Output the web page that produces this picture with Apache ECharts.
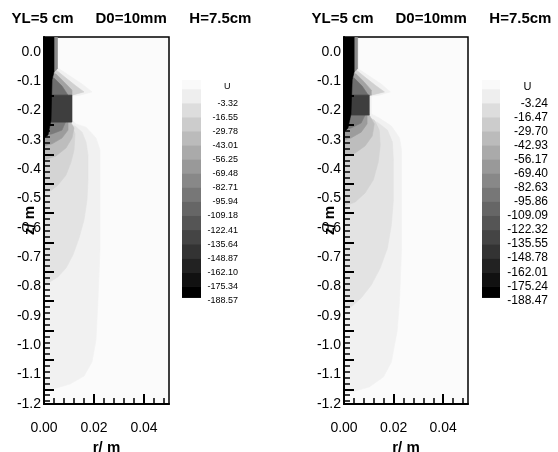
<!DOCTYPE html>
<html><head><meta charset="utf-8">
<script src="https://cdn.jsdelivr.net/npm/echarts@6/dist/echarts.min.js"></script>
<style>html,body{margin:0;padding:0;background:#fff}#c{width:558px;height:452px}</style>
</head><body><div id="c"></div>
<script>
// ---------- text / ticks ----------
const titleParts = ['YL=5 cm', 'D0=10mm', 'H=7.5cm'];
const xLabelValues = [0, 0.02, 0.04];
const yLabelValues = [-1.2, -1.1, -1.0, -0.9, -0.8, -0.7, -0.6, -0.5, -0.4, -0.3, -0.2, -0.1, 0.0];
const xName = 'r/ m', yName = 'z/ m', legendTitle = 'U';
const levelsLeft  = [-3.32, -16.55, -29.78, -43.01, -56.25, -69.48, -82.71, -95.94, -109.18, -122.41, -135.64, -148.87, -162.10, -175.34, -188.57];
const levelsRight = [-3.24, -16.47, -29.70, -42.93, -56.17, -69.40, -82.63, -95.86, -109.09, -122.32, -135.55, -148.78, -162.01, -175.24, -188.47];

// ---------- contour band outlines, [r (m), z (m)] ----------
// left panel
const L_bandA = [[0,-0.045],[0.0056,-0.056],[0.0104,-0.083],[0.0152,-0.110],[0.0192,-0.137],[0.0144,-0.148],[0.0112,-0.151],[0.0112,-0.233],[0.0128,-0.246],[0.0168,-0.257],[0.0208,-0.294],[0.0224,-0.335],[0.0224,-0.675],[0.0216,-0.846],[0.0208,-0.982],[0.0192,-1.057],[0.016,-1.105],[0.0104,-1.132],[0.0048,-1.146],[0,-1.149]];
const L_bandB = [[0,-0.240],[0.0064,-0.246],[0.0124,-0.253],[0.0152,-0.274],[0.0168,-0.308],[0.0176,-0.352],[0.0176,-0.437],[0.0172,-0.505],[0.016,-0.573],[0.014,-0.635],[0.0116,-0.692],[0.0088,-0.737],[0.0056,-0.767],[0.0024,-0.784],[0,-0.791]];
const L_bandC = [[0,-0.236],[0.0084,-0.240],[0.0112,-0.253],[0.0124,-0.280],[0.012,-0.335],[0.0108,-0.376],[0.0088,-0.420],[0.0056,-0.454],[0.0024,-0.475],[0,-0.481]];
const L_bandD = [[0,-0.233],[0.0104,-0.236],[0.012,-0.260],[0.0112,-0.294],[0.0088,-0.328],[0.0048,-0.355],[0,-0.369]];
const L_bandE = [[0,-0.233],[0.0096,-0.236],[0.0096,-0.267],[0.0072,-0.294],[0.0032,-0.314],[0,-0.321]];
const L_bandF = [[0,-0.233],[0.0088,-0.236],[0.0072,-0.267],[0.0032,-0.280],[0,-0.284]];
const L_hat1 = [[0,-0.056],[0.0048,-0.062],[0.0088,-0.090],[0.0128,-0.117],[0.016,-0.137],[0.0112,-0.148],[0,-0.148]];
const L_hat2 = [[0,-0.069],[0.0048,-0.076],[0.008,-0.103],[0.0112,-0.131],[0.0112,-0.148],[0,-0.148]];
const L_hat3 = [[0,-0.083],[0.004,-0.090],[0.0072,-0.117],[0.0096,-0.148],[0,-0.148]];
const L_block = [[0,-0.148],[0.0112,-0.148],[0.0112,-0.240],[0,-0.240]];
const L_edge = [[0.004,0.05],[0.0054,0.05],[0.0054,-0.058],[0.004,-0.069]];
const L_core = [[0,0.05],[0.004,0.05],[0.004,-0.069],[0.0032,-0.096],[0.0028,-0.233],[0.0016,-0.284],[0,-0.294]];
// right panel
const R_bandA = [[0,-0.045],[0.0053,-0.056],[0.0102,-0.083],[0.015,-0.110],[0.0187,-0.137],[0.0142,-0.148],[0.011,-0.151],[0.011,-0.212],[0.0142,-0.226],[0.0191,-0.253],[0.0224,-0.294],[0.0232,-0.335],[0.0232,-0.675],[0.0224,-0.846],[0.0215,-0.948],[0.0191,-1.057],[0.0159,-1.108],[0.0102,-1.142],[0.0045,-1.156],[0,-1.163]];
const R_bandB = [[0,-0.219],[0.0069,-0.226],[0.0134,-0.240],[0.0175,-0.267],[0.0195,-0.308],[0.0199,-0.369],[0.0199,-0.505],[0.0191,-0.590],[0.0175,-0.669],[0.0146,-0.737],[0.011,-0.795],[0.0069,-0.839],[0.0028,-0.870],[0,-0.883]];
const R_bandC = [[0,-0.216],[0.0085,-0.219],[0.0122,-0.233],[0.0142,-0.267],[0.0146,-0.318],[0.0138,-0.376],[0.0118,-0.437],[0.0085,-0.481],[0.0045,-0.512],[0,-0.526]];
const R_bandD = [[0,-0.212],[0.0102,-0.216],[0.0122,-0.246],[0.0114,-0.287],[0.0085,-0.321],[0.0045,-0.345],[0,-0.359]];
const R_bandE = [[0,-0.212],[0.0093,-0.216],[0.0093,-0.246],[0.0069,-0.274],[0.0028,-0.294],[0,-0.301]];
const R_bandF = [[0,-0.212],[0.0085,-0.216],[0.0069,-0.243],[0.0028,-0.260],[0,-0.267]];
const R_hat1 = [[0,-0.056],[0.0049,-0.062],[0.0089,-0.090],[0.013,-0.117],[0.0163,-0.137],[0.011,-0.148],[0,-0.148]];
const R_hat2 = [[0,-0.069],[0.0049,-0.076],[0.0081,-0.103],[0.011,-0.131],[0.011,-0.148],[0,-0.148]];
const R_hat3 = [[0,-0.083],[0.0041,-0.090],[0.0073,-0.117],[0.0098,-0.148],[0,-0.148]];
const R_block = [[0,-0.148],[0.0102,-0.148],[0.0102,-0.216],[0,-0.216]];
const R_edge = [[0.0041,0.05],[0.0055,0.05],[0.0055,-0.058],[0.0041,-0.069]];
const R_core = [[0,0.05],[0.0041,0.05],[0.0041,-0.069],[0.0033,-0.096],[0.0028,-0.212],[0.0016,-0.260],[0,-0.274]];

// ---------- styles ----------
const FONT = '"Liberation Sans", Arial, sans-serif';
const bandColors = {A:'#f1f1f1', B:'#e3e3e3', C:'#d4d4d4', D:'#bdbdbd', E:'#9c9c9c', F:'#7a7a7a', hat1:'#d0d0d0', hat2:'#a2a2a2', hat3:'#6e6e6e', block:'#3e3e3e', edge:'#8a8a8a', core:'#000000'};
const leftBands = [['A',L_bandA],['B',L_bandB],['C',L_bandC],['D',L_bandD],['E',L_bandE],['F',L_bandF],['hat1',L_hat1],['hat2',L_hat2],['hat3',L_hat3],['block',L_block],['edge',L_edge],['core',L_core]];
const rightBands = [['A',R_bandA],['B',R_bandB],['C',R_bandC],['D',R_bandD],['E',R_bandE],['F',R_bandF],['hat1',R_hat1],['hat2',R_hat2],['hat3',R_hat3],['block',R_block],['edge',R_edge],['core',R_core]];
const cbGrays = [250,238,221,204,187,170,153,136,119,102,85,68,51,34,17,0];

function bandSeries(bands, idx) {
  return {
    type: 'custom', xAxisIndex: idx, yAxisIndex: idx, clip: true, silent: true, animation: false,
    data: bands.map((b, i) => [i]),
    renderItem: (params, api) => {
      const b = bands[params.dataIndex];
      const c = bandColors[b[0]];
      return { type: 'polygon', shape: { points: b[1].map(p => api.coord(p)) }, style: { fill: c, stroke: c, lineWidth: 0.6 } };
    }
  };
}
function cbEdges(levels) {
  const step = levels[0] - levels[1];
  return [levels[0] + 1.66 * step, levels[0] + step].concat(levels.slice(0, 14)).concat([levels[13] - 0.79 * step]);
}
function cbSeries(levels, idx) {
  const e = cbEdges(levels);
  return {
    type: 'custom', xAxisIndex: idx, yAxisIndex: idx, silent: true, animation: false,
    data: cbGrays.map((g, i) => [i]),
    renderItem: (params, api) => {
      const i = params.dataIndex;
      const p0 = api.coord([0, e[i]]), p1 = api.coord([1, e[i + 1]]);
      const g = cbGrays[i];
      return { type: 'rect', shape: { x: p0[0], y: p0[1], width: p1[0] - p0[0], height: p1[1] - p0[1] + 0.5 }, style: { fill: `rgb(${g},${g},${g})` } };
    }
  };
}

const majorY = [], minorY = [], minorX = [];
for (let k = 0; k < 12; k++) majorY.push(+(-1.15 + 0.1 * k).toFixed(2));
for (let k = 0; k <= 62; k++) { const v = +(-1.19 + 0.02 * k).toFixed(2); if (Math.abs(Math.round(v * 100) % 10) !== 5) minorY.push(v); }
for (let k = 1; k < 13; k++) { const v = +(0.004 * k).toFixed(3); if (k % 5 !== 0) minorX.push(v); }

const grids = [
  { left: 44, top: 37, width: 125, height: 367 },
  { left: 344, top: 37, width: 124, height: 367 },
  { left: 182, top: 80, width: 19, height: 220.4 },
  { left: 482, top: 80, width: 18, height: 220.4 },
  { left: 44, top: 37, width: 125, height: 367 },
  { left: 344, top: 37, width: 124, height: 367 }
];
grids.forEach((g, i) => {
  g.outerBoundsMode = 'none'; g.containLabel = false;
  if (i < 2) { g.show = true; g.borderColor = '#000'; g.borderWidth = 1.5; g.backgroundColor = '#fbfbfb'; }
});

const nameStyle = { fontFamily: FONT, fontSize: 15, fontWeight: 'bold', color: '#000' };
function mainX(gi) {
  return { gridIndex: gi, type: 'value', position: 'bottom', min: 0, max: 0.05, name: xName, nameLocation: 'middle', nameGap: 36, nameMoveOverlap: false,
    nameTextStyle: nameStyle,
    axisLine: { show: true, onZero: false, lineStyle: { color: '#000', width: 2 } },
    axisTick: { show: true, inside: true, length: 10, customValues: [0.02, 0.04], lineStyle: { color: '#000', width: 2 } },
    axisLabel: { show: true, customValues: xLabelValues, margin: 17, fontFamily: FONT, fontSize: 14, color: '#000', formatter: v => v.toFixed(2) },
    splitLine: { show: false }, z: 10 };
}
function minorXAxis(gi) {
  return { gridIndex: gi, type: 'value', position: 'bottom', min: 0, max: 0.05, axisLine: { show: false, onZero: false },
    axisTick: { show: true, inside: true, length: 6, customValues: minorX, lineStyle: { color: '#000', width: 1.5 } },
    axisLabel: { show: false }, splitLine: { show: false }, z: 10 };
}
function mainY(gi) {
  return { gridIndex: gi, type: 'value', position: 'left', min: -1.2, max: 0.05, name: yName, nameLocation: 'middle', nameGap: 7, nameMoveOverlap: false,
    nameTextStyle: nameStyle,
    axisLine: { show: true, onZero: false, lineStyle: { color: '#000', width: 2 } },
    axisTick: { show: true, inside: true, length: 10, customValues: majorY, lineStyle: { color: '#000', width: 2 } },
    axisLabel: { show: true, customValues: yLabelValues, margin: 3, fontFamily: FONT, fontSize: 14, color: '#000', formatter: v => v.toFixed(1) },
    splitLine: { show: false }, z: 10 };
}
function minorYAxis(gi) {
  return { gridIndex: gi, type: 'value', position: 'left', min: -1.2, max: 0.05, axisLine: { show: false, onZero: false },
    axisTick: { show: true, inside: true, length: 6, customValues: minorY, lineStyle: { color: '#000', width: 1.5 } },
    axisLabel: { show: false }, splitLine: { show: false }, z: 10 };
}
function cbX(gi) { return { gridIndex: gi, type: 'value', min: 0, max: 1, show: false }; }
function cbY(gi, levels, size, margin) {
  const e = cbEdges(levels);
  return { gridIndex: gi, type: 'value', position: 'right', min: levels[14], max: e[0],
    axisLine: { show: false, onZero: false }, axisTick: { show: false }, splitLine: { show: false },
    axisLabel: { show: true, customValues: levels, align: 'right', margin: margin, padding: [0, 0, 6, 0],
      fontFamily: FONT, fontSize: size, color: '#000', formatter: v => v.toFixed(2) } };
}

const titleLeftPos = [11.5, 95.5, 189.3];
const titles = [];
[0, 300].forEach(off => titleParts.forEach((t, i) => titles.push({ text: t, left: titleLeftPos[i] + off, top: 11, padding: 0,
  textStyle: { fontFamily: FONT, fontSize: 15, fontWeight: 'bold', color: '#000' } })));
[224, 523.5].forEach((x, i) => titles.push({ text: legendTitle, left: x, top: i ? 81 : 82, padding: 0, textStyle: { fontFamily: FONT, fontSize: i ? 11 : 9, fontWeight: 'normal', color: '#000' } }));

const option = {
  animation: false,
  backgroundColor: '#ffffff',
  title: titles,
  grid: grids,
  xAxis: [mainX(0), mainX(1), cbX(2), cbX(3), minorXAxis(4), minorXAxis(5)],
  yAxis: [mainY(0), mainY(1), cbY(2, levelsLeft, 9, 37), cbY(3, levelsRight, 12, 48), minorYAxis(4), minorYAxis(5)],
  series: [bandSeries(leftBands, 0), bandSeries(rightBands, 1), cbSeries(levelsLeft, 2), cbSeries(levelsRight, 3)]
};
const chart = echarts.init(document.getElementById('c'), null, { renderer: 'canvas' });
chart.setOption(option);
</script></body></html>
